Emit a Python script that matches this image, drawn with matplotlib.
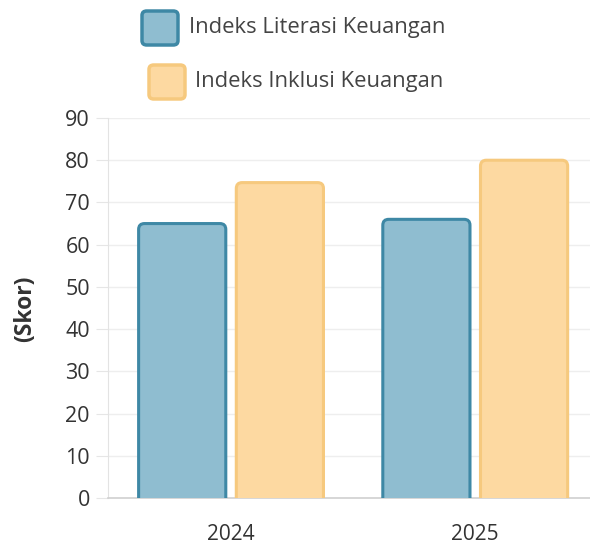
import numpy as np
import matplotlib
matplotlib.use("Agg")
import matplotlib.pyplot as plt
from matplotlib.patches import FancyBboxPatch

plt.rcParams['font.family'] = ['Open Sans', 'DejaVu Sans']

# data
years = ['2024', '2025']
literasi = [65.0, 66.0]
inklusi = [74.7, 80.0]
series_names = ['Indeks Literasi Keuangan', 'Indeks Inklusi Keuangan']

blue_fill, blue_edge = '#8fbdd0', '#3e88a5'
orng_fill, orng_edge = '#fdd9a1', '#f6c97e'

fig = plt.figure(figsize=(5.9, 5.45), dpi=100)
ax = fig.add_axes([0.183, 0.0862, 0.817, 0.6973])

x = np.arange(len(years))
w = 0.357
off = 0.2

ax.set_xlim(-0.504, 1.47)
ax.set_ylim(0, 90)

# aspect for rounded corners: x-unit px / y-unit px
asp = (0.817 * 590 / 1.974) / (0.6973 * 545 / 90)

def rbar(xc, h, fc, ec):
    p = FancyBboxPatch((xc - w / 2, -3), w, h + 3,
                       boxstyle="round,pad=0,rounding_size=0.024",
                       mutation_aspect=asp, facecolor=fc, edgecolor=ec,
                       linewidth=2.2, zorder=3)
    ax.add_patch(p)

for i in range(len(years)):
    rbar(x[i] - off, literasi[i], blue_fill, blue_edge)
    rbar(x[i] + off, inklusi[i], orng_fill, orng_edge)

ax.set_yticks(np.arange(0, 91, 10))
ax.set_xticks(x)
ax.set_xticklabels(years)
ax.yaxis.grid(True, color='#eeeeee', linewidth=1)
ax.set_axisbelow(True)
for s in ['top', 'right']:
    ax.spines[s].set_visible(False)
ax.spines['left'].set_color('#e3e3e3')
ax.spines['bottom'].set_color('#d0d0d0')
ax.spines['bottom'].set_linewidth(1.2)
ax.tick_params(axis='y', length=9, color='#e6e6e6', labelsize=15.5,
               labelcolor='#333333', pad=4)
ax.tick_params(axis='x', length=0, labelsize=15, labelcolor='#333333', pad=19)

fig.text(0.043, 0.433, '(Skor)', rotation=90, fontsize=16.5,
         fontweight='bold', color='#333333', ha='center', va='center')

# legend drawn by hand
def leg_box(x0, y0, fc, ec, label, tx):
    b = FancyBboxPatch((x0 / 590, 1 - y0 / 545 - 34 / 545), 36 / 590, 34 / 545,
                       boxstyle="round,pad=0,rounding_size=0.008",
                       transform=fig.transFigure, facecolor=fc, edgecolor=ec,
                       linewidth=2.5, figure=fig)
    fig.patches.append(b)
    fig.text(tx / 590, 1 - (y0 + 17) / 545, label, fontsize=15.8,
             color='#444444', va='center', ha='left')

leg_box(142, 11, blue_fill, blue_edge, series_names[0], 189)
leg_box(149, 65, orng_fill, orng_edge, series_names[1], 195)

fig.savefig('out.png', dpi=100)
